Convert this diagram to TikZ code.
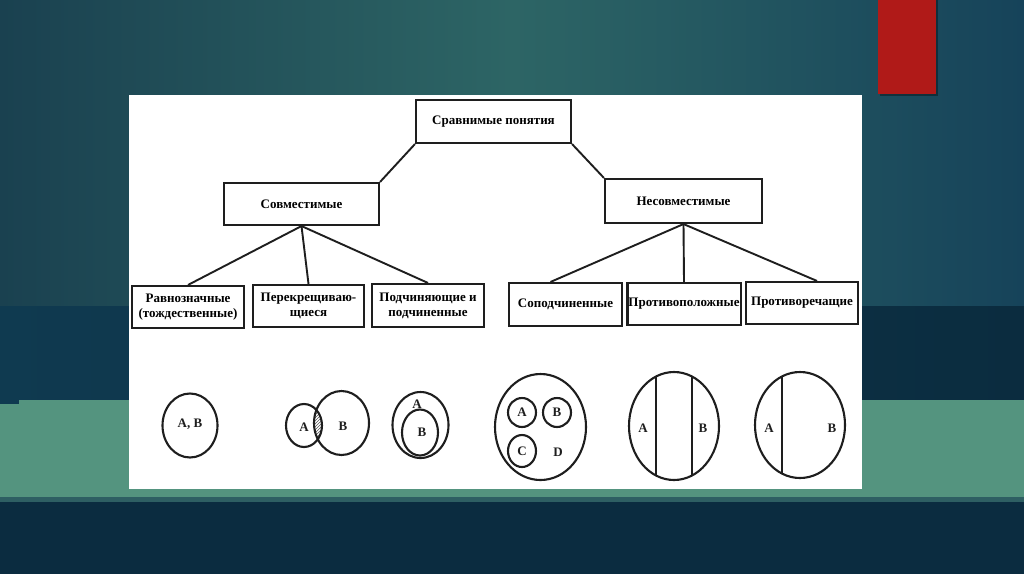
\documentclass[tikz,border=0pt]{standalone}
\usepackage{fontspec}
\setmainfont{Liberation Serif}
\usetikzlibrary{patterns}
\definecolor{bgA}{HTML}{1A4150}
\definecolor{bgB}{HTML}{2D6565}
\definecolor{bgC}{HTML}{16435A}
\definecolor{darkband}{HTML}{0F3A50}
\definecolor{darkbandR}{HTML}{0B2C3F}
\definecolor{greenband}{HTML}{54947F}
\definecolor{seam}{HTML}{2E5F63}
\definecolor{bottomband}{HTML}{0B2C40}
\definecolor{redmark}{HTML}{B01A18}
\definecolor{ink}{HTML}{1E1E1E}
\begin{document}
\begin{tikzpicture}[x=1pt,y=-1pt,
  box/.style={draw=ink,line width=2.1pt,fill=white,inner sep=1pt,align=center,
    font=\fontsize{13}{15}\selectfont\bfseries},
  conn/.style={draw=ink,line width=1.9pt},
  venn/.style={draw=ink,line width=2.1pt},
  lbl/.style={font=\fontsize{13}{15}\selectfont\bfseries,inner sep=0pt,text=ink}]
\useasboundingbox (0,0) rectangle (1024,574);
% background
\shade[left color=bgA,right color=bgC,middle color=bgB] (0,0) rectangle (1024,306);
\shade[left color=darkband,right color=darkbandR] (0,306) rectangle (1024,400);
\fill[darkband] (0,400) rectangle (19,404);
\fill[greenband] (19,400) rectangle (1024,498);
\fill[greenband] (0,404) rectangle (19,498);
\fill[seam] (0,497) rectangle (1024,502);
\fill[bottomband] (0,502) rectangle (1024,574);
\fill[black,opacity=0.35] (880,0) rectangle (938,96);
\fill[redmark] (878,0) rectangle (936,94);
\fill[white] (129,95) rectangle (862,489);
% tree
\node[box,minimum width=155pt,minimum height=43pt] (top) at (493.5,121.5) {Сравнимые понятия};
\node[box,minimum width=155pt,minimum height=42pt] (sovm) at (301.5,204) {Совместимые};
\node[box,minimum width=157pt,minimum height=44pt] (nesovm) at (683.5,201) {Несовместимые};
\node[box,minimum width=112pt,minimum height=42pt] (r1) at (188,307) {Равнозначные\\(тождественные)};
\node[box,minimum width=111pt,minimum height=42pt] (r2) at (308.5,306) {Перекрещиваю-\\щиеся};
\node[box,minimum width=112pt,minimum height=43pt] (r3) at (428,305.5) {Подчиняющие и\\подчиненные};
\node[box,minimum width=113pt,minimum height=43pt] (r4) at (565.5,304.5) {Соподчиненные};
\node[box,minimum width=112pt,minimum height=42pt] (r5) at (684,304) {Противоположные};
\node[box,minimum width=112pt,minimum height=42pt] (r6) at (802,303) {Противоречащие};
\draw[conn] (top.south west) -- (sovm.north east);
\draw[conn] (top.south east) -- (nesovm.north west);
\draw[conn] (sovm.south) -- (r1.north);
\draw[conn] (sovm.south) -- (r2.north);
\draw[conn] (sovm.south) -- (r3.north);
\draw[conn] (nesovm.south) -- ([xshift=-15pt]r4.north);
\draw[conn] (nesovm.south) -- (r5.north);
\draw[conn] (nesovm.south) -- ([xshift=15pt]r6.north);
% circles: equal
\draw[venn] (190,425.5) ellipse [x radius=27.5pt,y radius=32pt];
\node[lbl] (lab) at (190,424) {А, В};
% crossing
\begin{scope}
\clip (304,425.5) ellipse [x radius=18pt,y radius=21.5pt];
\fill[pattern=north east lines,pattern color=ink!75] (341.5,423) ellipse [x radius=27.5pt,y radius=32pt];
\end{scope}
\draw[venn] (304,425.5) ellipse [x radius=18pt,y radius=21.5pt];
\draw[venn] (341.5,423) ellipse [x radius=27.5pt,y radius=32pt];
\node[lbl] (xa) at (304,427) {А};
\node[lbl] (xb) at (343,426) {В};
% nested
\draw[venn] (420.5,425) ellipse [x radius=28pt,y radius=33pt];
\draw[venn] (420,432.5) ellipse [x radius=18pt,y radius=23pt];
\node[lbl] (na) at (417,404) {А};
\node[lbl] (nb) at (422,432) {В};
% subordinate
\draw[venn] (540.5,427) ellipse [x radius=45.5pt,y radius=53pt];
\draw[venn] (522,412.5) ellipse [x radius=14pt,y radius=14.5pt];
\draw[venn] (557,412.5) ellipse [x radius=14pt,y radius=14.5pt];
\draw[venn] (522,451) ellipse [x radius=14pt,y radius=16pt];
\node[lbl] (sa) at (522,412.5) {А};
\node[lbl] (sb) at (557,412.5) {В};
\node[lbl] (sc) at (522,451) {С};
\node[lbl] (sd) at (558,452) {D};
% opposite
\begin{scope}
\clip (674,426) ellipse [x radius=45pt,y radius=54pt];
\draw[venn] (656,360) -- (656,490);
\draw[venn] (692,360) -- (692,490);
\end{scope}
\draw[venn] (674,426) ellipse [x radius=45pt,y radius=54pt];
\node[lbl] (oa) at (643,428) {А};
\node[lbl] (ob) at (703,428) {В};
% contradictory
\begin{scope}
\clip (800,425) ellipse [x radius=45pt,y radius=53pt];
\draw[venn] (782,360) -- (782,490);
\end{scope}
\draw[venn] (800,425) ellipse [x radius=45pt,y radius=53pt];
\node[lbl] (ca) at (769,428) {А};
\node[lbl] (cb) at (832,428) {В};
\end{tikzpicture}
\end{document}
